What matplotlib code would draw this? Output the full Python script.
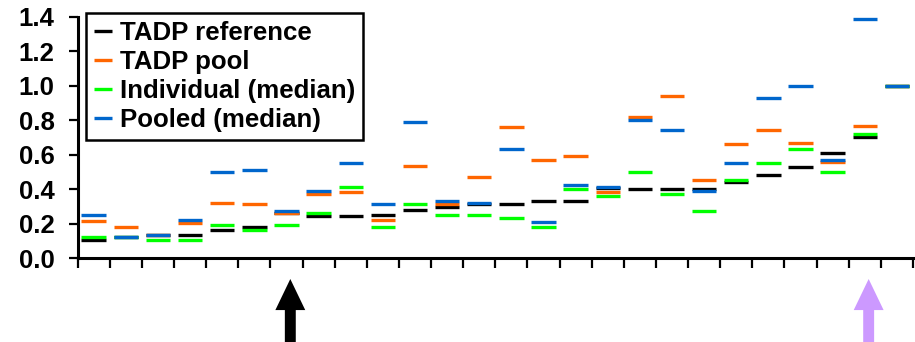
import numpy as np
import matplotlib
matplotlib.use("Agg")
import matplotlib.pyplot as plt
from matplotlib.patches import FancyArrow

plt.rcParams['font.family'] = ['Liberation Sans', 'DejaVu Sans']
plt.rcParams['font.weight'] = 'bold'

categories = list(range(1, 27))
tadp_reference = [0.106, 0.123, 0.133, 0.133, 0.164, 0.183, 0.265, 0.243, 0.243, 0.253,
                  0.282, 0.299, 0.313, 0.313, 0.332, 0.332, 0.405, 0.402, 0.402, 0.402,
                  0.441, 0.481, 0.531, 0.610, 0.701, 1.0]
tadp_pool = [0.214, 0.183, 0.133, 0.205, 0.322, 0.313, 0.261, 0.373, 0.383, 0.222,
             0.533, 0.313, 0.471, 0.761, 0.572, 0.591, 0.383, 0.821, 0.939, 0.452,
             0.661, 0.742, 0.670, 0.560, 0.769, 1.0]
individual_median = [0.123, 0.123, 0.106, 0.106, 0.193, 0.164, 0.193, 0.264, 0.412, 0.183,
                     0.313, 0.253, 0.253, 0.232, 0.183, 0.402, 0.363, 0.500, 0.373, 0.272,
                     0.452, 0.551, 0.632, 0.500, 0.721, 1.0]
pooled_median = [0.253, 0.123, 0.133, 0.224, 0.500, 0.510, 0.272, 0.392, 0.552, 0.313,
                 0.792, 0.332, 0.322, 0.632, 0.212, 0.423, 0.412, 0.802, 0.742, 0.392,
                 0.551, 0.929, 0.999, 0.570, 1.389, 1.0]
yticks = [0.0, 0.2, 0.4, 0.6, 0.8, 1.0, 1.2, 1.4]
ytick_labels = ["0.0", "0.2", "0.4", "0.6", "0.8", "1.0", "1.2", "1.4"]
series_names = ["TADP reference", "TADP pool", "Individual (median)", "Pooled (median)"]
series_colors = ["#000000", "#FF6600", "#00FF00", "#0066CC"]
arrow_positions = [6, 24]
arrow_colors = ["#000000", "#CC99FF"]

fig = plt.figure(figsize=(9.15, 3.42), dpi=100)
W, H = 915, 342
left, right, top, bottom = 77.6, 913, 16.7, 258.3
ax = fig.add_axes([left / W, 1 - bottom / H, (right - left) / W, (bottom - top) / H])

n = len(categories)
x = np.arange(n) + 0.5
half = 0.38
series = [tadp_reference, tadp_pool, individual_median, pooled_median]
for vals, name, col in zip(series, series_names, series_colors):
    v = np.array(vals, dtype=float)
    ax.hlines(v, x - half, x + half, colors=col, linewidth=2.4, label=name,
              capstyle='butt')

ax.set_xlim(0, n)
ax.set_ylim(0, 1.4)
ax.set_xticks(np.arange(n + 1))
ax.set_xticklabels([])
ax.set_yticks(yticks)
ax.set_yticklabels(ytick_labels, fontsize=18.5, fontweight='bold')
for s in ['top', 'right']:
    ax.spines[s].set_visible(False)
for s in ['left', 'bottom']:
    ax.spines[s].set_linewidth(2.2)
ax.tick_params(axis='x', direction='out', length=7, width=1.6)
ax.tick_params(axis='y', direction='out', length=6.5, width=1.6, pad=10)

leg = ax.legend(loc='upper left', bbox_to_anchor=(86 / W, 1 - 13 / H),
                bbox_transform=fig.transFigure, borderaxespad=0,
                prop={'family': 'Liberation Sans', 'weight': 'bold', 'size': 18.6},
                handlelength=0.7, handletextpad=0.3, labelspacing=0.2,
                borderpad=0.3, fancybox=False, framealpha=1, edgecolor='black')
leg.get_frame().set_linewidth(1.8)
for h in leg.legend_handles:
    h.set_linewidth(2.4)

for pos, col in zip(arrow_positions, arrow_colors):
    xa = pos + 0.5 + 0.12
    tip = -0.12
    start = -0.55
    arr = FancyArrow(xa, start, 0, tip - start, width=0.34, head_width=0.93,
                     head_length=0.18, length_includes_head=True,
                     color=col, clip_on=False, linewidth=0)
    ax.add_patch(arr)

fig.savefig("out.png", dpi=100)
